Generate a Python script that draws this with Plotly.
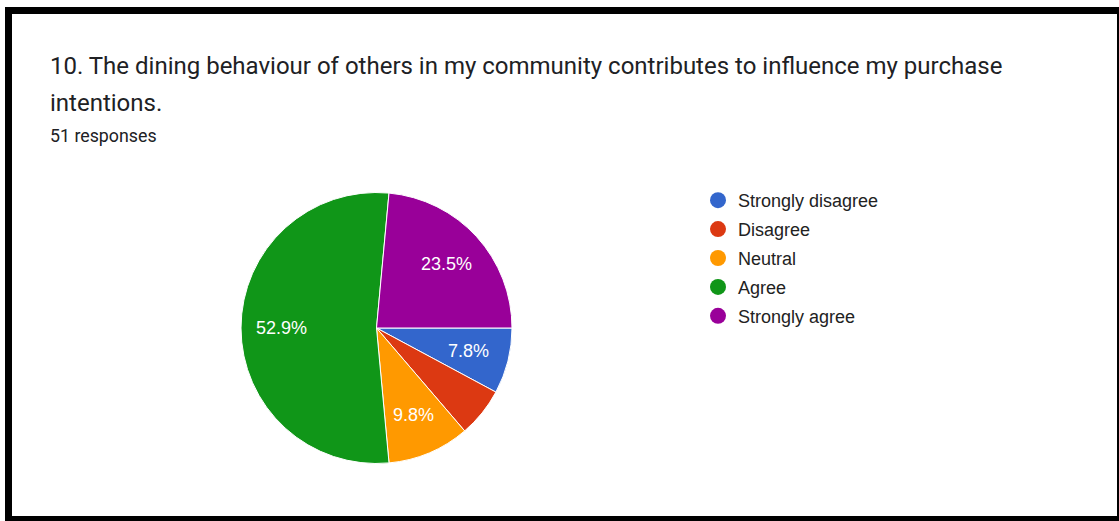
import numpy as np
import plotly.graph_objects as go

W, H = 1119, 521

# Survey results (51 responses)
labels = ["Strongly disagree", "Disagree", "Neutral", "Agree", "Strongly agree"]
counts = [4, 3, 5, 27, 12]
colors = ["#3366cc", "#dc3912", "#ff9900", "#109618", "#990099"]

title_line1 = "10. The dining behaviour of others in my community contributes to influence my purchase"
title_line2 = "intentions."
subtitle = "51 responses"

MIN_LABEL_SHARE = 0.07   # slices thinner than this get no percent label
LABEL_RADIUS = 0.70      # label distance from centre, as a fraction of radius


def px(x):
    return x / W


def py(y):
    return 1 - y / H


fig = go.Figure()

# Pie centred at (376.5, 328) px with radius 135.5 px, first slice at 3 o'clock
cx, cy, r = 376.5, 328, 135.5
fig.add_trace(go.Pie(
    labels=labels,
    values=counts,
    sort=False,
    direction="clockwise",
    rotation=90,
    marker=dict(colors=colors, line=dict(color="white", width=1)),
    textinfo="none",
    showlegend=False,
    hoverinfo="label+percent",
    domain=dict(x=[px(cx - r), px(cx + r)], y=[py(cy + r), py(cy - r)]),
))

# Percent labels placed along each slice's mid-angle
vals = np.array(counts, dtype=float)
shares = vals / vals.sum()
mid = np.cumsum(shares) - shares / 2          # fraction of a turn, clockwise from 3 o'clock
theta = 2 * np.pi * mid
for share, t in zip(shares, theta):
    if share < MIN_LABEL_SHARE:
        continue
    lx = cx + LABEL_RADIUS * r * np.cos(t)
    ly = cy + LABEL_RADIUS * r * np.sin(t)
    fig.add_annotation(x=px(lx), y=py(ly), xref="paper", yref="paper",
                       xanchor="center", yanchor="middle", showarrow=False,
                       text=f"{share * 100:.1f}%",
                       font=dict(family="Arial, Liberation Sans", size=18, color="white"))

# Legend entries with round swatches
for lab, col in zip(labels, colors):
    fig.add_trace(go.Scatter(
        x=[None], y=[None], mode="markers", name=lab, legendgroup=lab,
        marker=dict(symbol="circle", size=18, color=col),
    ))

fig.update_xaxes(visible=False)
fig.update_yaxes(visible=False)

title_font = dict(family="Roboto, Arial", size=24, color="#202124")
fig.add_annotation(x=px(48), y=py(66), xref="paper", yref="paper", xanchor="left", yanchor="middle",
                   text=title_line1, showarrow=False, font=title_font)
fig.add_annotation(x=px(48), y=py(103), xref="paper", yref="paper", xanchor="left", yanchor="middle",
                   text=title_line2, showarrow=False, font=title_font)
fig.add_annotation(x=px(48), y=py(135), xref="paper", yref="paper", xanchor="left", yanchor="middle",
                   text=subtitle, showarrow=False,
                   font=dict(family="Roboto, Arial", size=17.8, color="#202124"))

# Thick black frame around the card
frame = [
    (5, 7, 1119, 14),      # top
    (5, 7, 12, 521),       # left
    (1117, 7, 1119, 521),  # right
    (5, 516, 1119, 521),   # bottom
]
for x0, y0, x1, y1 in frame:
    fig.add_shape(type="rect", xref="paper", yref="paper",
                  x0=px(x0), x1=px(x1), y0=py(y1), y1=py(y0),
                  fillcolor="black", line=dict(width=0), layer="above")

fig.update_layout(
    width=W, height=H,
    margin=dict(l=0, r=0, t=0, b=0),
    paper_bgcolor="white", plot_bgcolor="white",
    legend=dict(
        x=px(698), y=py(182), xanchor="left", yanchor="top",
        font=dict(family="Arial, Liberation Sans", size=18, color="#222222"),
        tracegroupgap=2.5, bgcolor="rgba(0,0,0,0)",
    ),
)

fig.write_html("out.html")
